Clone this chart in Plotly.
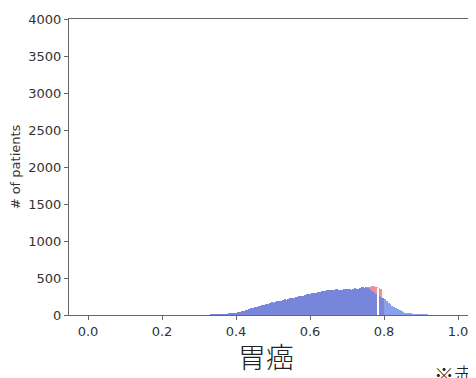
import plotly.graph_objects as go

# Histogram: bin width 0.005
bin_width = 0.005
blue_start = 0.330
blue_counts = [3, 4, 5, 6, 7, 8, 9, 10, 11, 12, 14, 15, 18, 22,
               28, 35, 44, 52, 58, 66, 74, 80, 88, 95,
               104, 110, 116, 122, 134, 140, 146, 152, 164, 170,
               168, 176, 188, 184, 194, 198, 210, 206, 222, 226,
               236, 232, 240, 246, 256, 260, 262, 270, 282, 278,
               288, 294, 300, 304, 306, 316, 326, 320, 322, 334,
               342, 336, 332, 340, 346, 338, 336, 344, 352, 346,
               350, 356, 344, 352, 362, 356, 358, 368, 376, 366,
               372, 362, 350, 330, 310, 290, 272, 255, 240, 225]

tail_start = 0.800
tail_counts = [212, 190, 168, 150, 128, 112, 92, 80, 62, 50, 40, 32,
               24, 18, 14, 10, 8, 6, 5, 4, 3, 2, 2, 1]

red_start = 0.755
red_counts = [372, 384, 394, 390, 384, 376, 366, 350]

gap_x = [0.7835]
gap_counts = [360]

y_ticks = [0, 500, 1000, 1500, 2000, 2500, 3000, 3500, 4000]
x_ticks = [0.0, 0.2, 0.4, 0.6, 0.8, 1.0]

def centers(start, counts):
    return [start + (i + 0.5) * bin_width for i in range(len(counts))]

fig = go.Figure()
fig.add_trace(go.Bar(x=centers(red_start, red_counts), y=red_counts, width=bin_width,
                     marker=dict(color="#f28e8e", line=dict(width=0)), showlegend=False))
fig.add_trace(go.Bar(x=centers(blue_start, blue_counts), y=blue_counts, width=bin_width,
                     marker=dict(color="#7786db", line=dict(width=0)), showlegend=False))
fig.add_trace(go.Bar(x=centers(tail_start, tail_counts), y=tail_counts, width=bin_width,
                     marker=dict(color="#8aa2ec", line=dict(width=0)), showlegend=False))
fig.add_trace(go.Bar(x=gap_x, y=gap_counts, width=0.002,
                     marker=dict(color="white", line=dict(width=0)), showlegend=False))

axis_font = dict(family="DejaVu Sans", size=13, color="#333333")
# The page body has an 8px margin, so the figure is sized to fit the window.
fig.update_layout(
    width=468, height=370,
    margin=dict(l=61, r=1, t=11, b=63),
    paper_bgcolor="white", plot_bgcolor="white",
    barmode="overlay", bargap=0,
    xaxis=dict(range=[-0.0514, 1.0459], tickvals=x_ticks,
               ticktext=[f"{v:.1f}" for v in x_ticks], automargin=False,
               showgrid=False, zeroline=False, showline=True, linecolor="#666666",
               linewidth=1, mirror=True, ticks="outside", ticklen=4, tickcolor="#666666",
               tickfont=axis_font),
    yaxis=dict(range=[0, 4000], tickvals=y_ticks, automargin=False,
               showgrid=False, zeroline=False, showline=True, linecolor="#666666",
               linewidth=1, mirror=True, ticks="outside", ticklen=4, tickcolor="#666666",
               tickfont=axis_font,
               title=dict(text="# of patients", font=dict(family="DejaVu Sans", size=13, color="#333333"),
                          standoff=4)),
    font=dict(family="DejaVu Sans"),
)

fig.add_annotation(text="胃癌", xref="paper", yref="paper",
                   x=(266 - 69) / 406, y=(315 - 356) / 296, xanchor="center", yanchor="middle",
                   showarrow=False,
                   font=dict(family="Noto Sans CJK JP", size=28, color="#222222", weight=300))
fig.add_annotation(text="※赤", xref="paper", yref="paper",
                   x=(432 - 69) / 406, y=(315 - 358) / 296, xanchor="left", yanchor="top",
                   showarrow=False,
                   font=dict(family="Noto Sans CJK JP", size=20, color="#222222", weight=300))

fig.write_html("out.html")
